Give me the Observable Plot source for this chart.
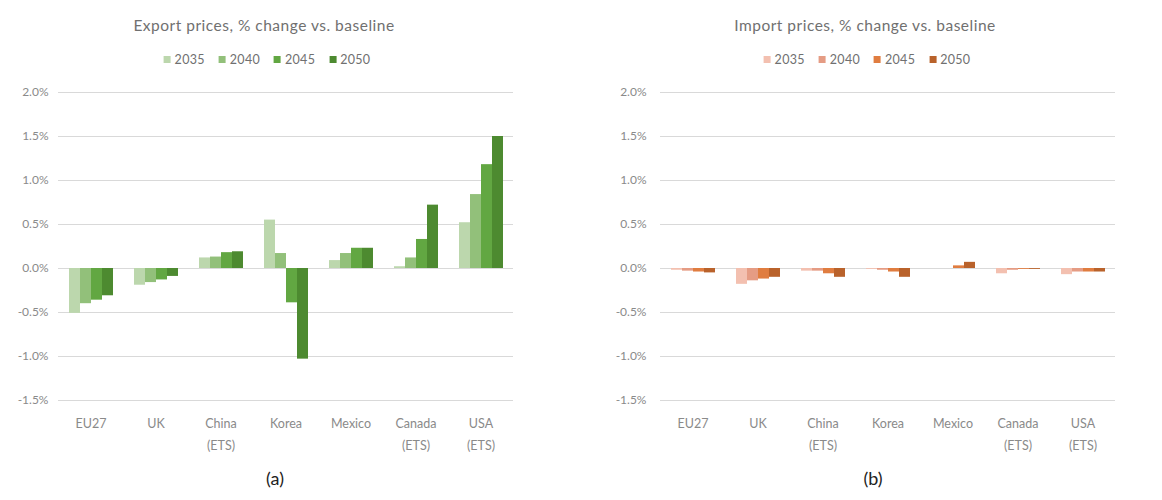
<!DOCTYPE html>
<html>
<head>
<meta charset="utf-8">
<script src="https://cdn.jsdelivr.net/npm/d3@7"></script>
<script src="https://cdn.jsdelivr.net/npm/@observablehq/plot@0.6"></script>
<style>
  html, body { margin: 0; padding: 0; background: #fff; }
  #root { position: relative; width: 1162px; height: 500px; font-family: Lato, "Open Sans", sans-serif; overflow: hidden; }
  .title { position: absolute; top: 16px; transform: translateX(-50%); white-space: nowrap; font-size: 15.5px; letter-spacing: 0.5px; color: #707070; }
  .legend { position: absolute; top: 52px; transform: translateX(-50%); white-space: nowrap; font-size: 12.5px; letter-spacing: 0.3px; color: #707070; display: flex; gap: 14px; }
  .legend span.sw { display: inline-block; width: 7px; height: 7px; margin-right: 4px; vertical-align: 1px; }
  .panel { position: absolute; top: 80px; }
  .cap { position: absolute; top: 467px; transform: translateX(-50%); font-size: 18px; color: #222; }
</style>
</head>
<body>
<div id="root"></div>
<script>
const countries = ["EU27", "UK", "China\n(ETS)", "Korea", "Mexico", "Canada\n(ETS)", "USA\n(ETS)"];
const years = ["2035", "2040", "2045", "2050"];

// Export prices, % change vs. baseline (one array per year, in country order)
const export2035 = [-0.51, -0.19, 0.12, 0.55, 0.09, 0.02, 0.52];
const export2040 = [-0.40, -0.16, 0.13, 0.17, 0.17, 0.12, 0.84];
const export2045 = [-0.36, -0.13, 0.18, -0.39, 0.23, 0.33, 1.18];
const export2050 = [-0.31, -0.09, 0.19, -1.03, 0.23, 0.72, 1.50];

// Import prices, % change vs. baseline
const import2035 = [-0.02, -0.18, -0.03, -0.01, 0.00, -0.06, -0.07];
const import2040 = [-0.03, -0.14, -0.03, -0.02, 0.00, -0.02, -0.04];
const import2045 = [-0.04, -0.12, -0.06, -0.04, 0.03, -0.01, -0.04];
const import2050 = [-0.05, -0.10, -0.10, -0.10, 0.07, -0.01, -0.04];

const yTicks = [-1.5, -1.0, -0.5, 0.0, 0.5, 1.0, 1.5, 2.0];
const exportColors = ["#bcd7ad", "#92c07a", "#62a742", "#4d8a30"];
const importColors = ["#f3c0b0", "#e59c84", "#e07d40", "#b9622b"];

const exportTitle = "Export prices, % change vs. baseline";
const importTitle = "Import prices, % change vs. baseline";

function toRows(series) {
  const rows = [];
  countries.forEach((c, i) => {
    years.forEach((y, j) => rows.push({country: c, year: y, value: series[j][i]}));
  });
  return rows;
}

function chart(rows, colors, opts) {
  return Plot.plot({
    width: opts.width,
    height: 385,
    marginTop: 12,
    marginBottom: 65,
    marginLeft: opts.marginLeft,
    marginRight: opts.marginRight,
    style: {fontFamily: "Lato, 'Open Sans', sans-serif", fontSize: "12px", color: "#8a8a8a", background: "transparent"},
    fx: {domain: countries, padding: 0, label: null, axis: null},
    x: {domain: years, paddingInner: 0, paddingOuter: 0.78, axis: null},
    y: {domain: [-1.5, 2.0], label: null, axis: null},
    color: {domain: years, range: colors},
    marks: [
      Plot.gridY(yTicks, {stroke: "#d9d9d9", strokeOpacity: 1, strokeWidth: 1}),
      Plot.axisY(yTicks, {tickFormat: d => d.toFixed(1) + "%", tickSize: 0, tickPadding: opts.tickPad, label: null, fontSize: 12, letterSpacing: 0.4}),
      Plot.axisFx({anchor: "bottom", tickSize: 0, tickPadding: 12, label: null, fontSize: 12.5, lineHeight: 1.75, letterSpacing: 0.3}),
      Plot.barY(rows, {fx: "country", x: "year", y: "value", fill: "year"})
    ]
  });
}

const root = document.getElementById("root");

function addText(cls, text, cx) {
  const d = document.createElement("div");
  d.className = cls;
  d.textContent = text;
  d.style.left = cx + "px";
  root.appendChild(d);
}
function addLegend(colors, cx) {
  const d = document.createElement("div");
  d.className = "legend";
  d.style.left = cx + "px";
  years.forEach((y, i) => {
    const it = document.createElement("span");
    const sw = document.createElement("span");
    sw.className = "sw";
    sw.style.background = colors[i];
    it.appendChild(sw);
    it.appendChild(document.createTextNode(y));
    d.appendChild(it);
  });
  root.appendChild(d);
}

addText("title", exportTitle, 264);
addText("title", importTitle, 865);
addLegend(exportColors, 267);
addLegend(importColors, 867);

const left = chart(toRows([export2035, export2040, export2045, export2050]), exportColors,
  {width: 580, marginLeft: 57, marginRight: 67, tickPad: 10});
const lw = document.createElement("div");
lw.className = "panel"; lw.style.left = "0px";
lw.appendChild(left);
root.appendChild(lw);

const right = chart(toRows([import2035, import2040, import2045, import2050]), importColors,
  {width: 582, marginLeft: 78, marginRight: 46, tickPad: 14});
const rw = document.createElement("div");
rw.className = "panel"; rw.style.left = "580px";
rw.appendChild(right);
root.appendChild(rw);

addText("cap", "(a)", 275);
addText("cap", "(b)", 873);
</script>
</body>
</html>
